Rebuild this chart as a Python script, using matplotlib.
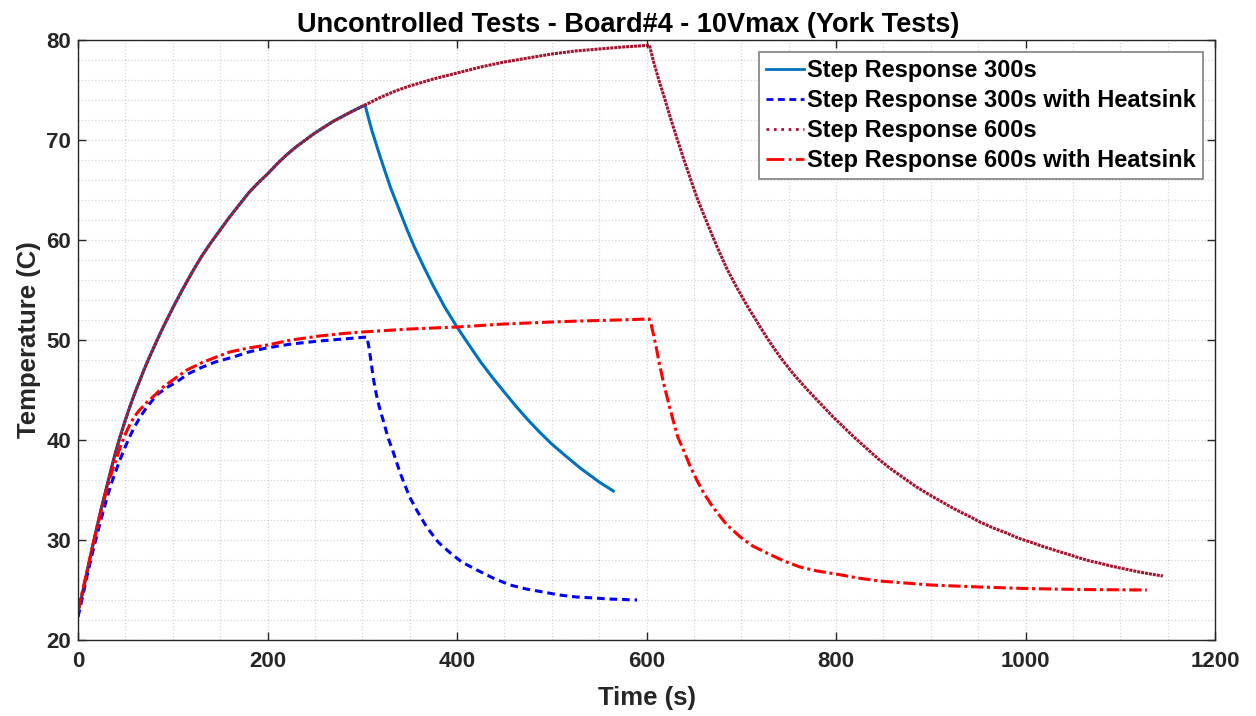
import matplotlib.pyplot as plt
from matplotlib.lines import Line2D
from matplotlib.ticker import MultipleLocator

plt.rcParams['font.family'] = ['Liberation Sans', 'DejaVu Sans']
plt.rcParams['font.weight'] = 'bold'

# Step Response 300s
t_300 = [0, 5, 10, 15, 20, 25, 30, 35, 40, 45, 50, 55, 60, 65, 70, 75, 84, 90, 100, 110,
         120, 130, 140, 150, 160, 170, 180, 190, 200, 210, 220, 230, 240, 250, 260, 270,
         280, 290, 303, 306, 310, 319, 325, 330, 340, 347, 355, 365, 375, 387, 400, 412,
         425, 437, 449, 462, 475, 487, 500, 516, 530, 550, 565]
T_300 = [22.8, 24.8, 27.0, 29.2, 31.3, 33.3, 35.2, 37.1, 38.9, 40.5, 42.0, 43.4, 44.7,
         45.9, 47.1, 48.2, 50.1, 51.3, 53.2, 55.0, 56.7, 58.3, 59.7, 61.0, 62.3, 63.5,
         64.7, 65.7, 66.6, 67.6, 68.5, 69.3, 70.0, 70.7, 71.3, 71.9, 72.4, 72.9, 73.5,
         72.4, 71.0, 68.3, 66.6, 65.2, 62.8, 61.1, 59.3, 57.3, 55.4, 53.3, 51.3, 49.6,
         47.8, 46.3, 44.9, 43.4, 42.0, 40.8, 39.6, 38.3, 37.2, 35.8, 34.9]

# Step Response 300s with Heatsink
t_300hs = [0, 5, 10, 15, 20, 25, 30, 35, 43, 48, 53, 59, 65, 72, 83, 93, 104, 116, 129,
           145, 164, 180, 199, 225, 255, 280, 305, 307, 309, 312, 315, 318, 322, 327, 333,
           340, 350, 358, 368, 380, 393, 405, 421, 438, 456, 473, 491, 508, 526, 545, 560,
           590]
T_300hs = [22.3, 24.4, 26.6, 28.6, 30.5, 32.3, 34.0, 35.6, 37.7, 38.9, 40.0, 41.2, 42.2,
           43.2, 44.5, 45.2, 45.8, 46.6, 47.2, 47.8, 48.3, 48.8, 49.2, 49.6, 49.9, 50.1,
           50.3, 49.3, 48.0, 46.0, 44.5, 43.3, 42.0, 40.3, 38.7, 36.7, 34.3, 32.9, 31.3,
           29.8, 28.7, 27.8, 27.0, 26.2, 25.5, 25.1, 24.8, 24.5, 24.3, 24.2, 24.1, 24.0]

# Step Response 600s
t_600 = [0, 5, 10, 15, 20, 25, 30, 35, 40, 45, 50, 55, 60, 65, 70, 75, 84, 90, 100, 110,
         120, 130, 140, 150, 160, 170, 180, 190, 200, 210, 220, 230, 240, 250, 260, 270,
         280, 290, 303, 320, 335, 350, 375, 400, 425, 450, 475, 500, 525, 550, 575, 600,
         603, 607, 613, 619, 625, 632, 640, 653, 664, 675, 685, 695, 707, 720, 730, 741,
         755, 770, 783, 797, 808, 820, 833, 846, 858, 870, 885, 899, 912, 925, 940, 952,
         966, 980, 992, 1005, 1017, 1030, 1044, 1057, 1068, 1080, 1090, 1100, 1110, 1120,
         1132, 1145]
T_600 = [22.8, 24.8, 27.0, 29.2, 31.3, 33.3, 35.2, 37.1, 38.9, 40.5, 42.0, 43.4, 44.7,
         45.9, 47.1, 48.2, 50.1, 51.3, 53.2, 55.0, 56.7, 58.3, 59.7, 61.0, 62.3, 63.5,
         64.7, 65.7, 66.6, 67.6, 68.5, 69.3, 70.0, 70.7, 71.3, 71.9, 72.4, 72.9, 73.5,
         74.3, 74.9, 75.4, 76.1, 76.7, 77.3, 77.8, 78.2, 78.6, 78.9, 79.1, 79.3, 79.45,
         79.5, 78.0, 76.0, 74.2, 72.3, 70.2, 67.9, 64.3, 61.7, 59.2, 57.1, 55.3, 53.3,
         51.3, 49.8, 48.3, 46.6, 45.0, 43.7, 42.3, 41.3, 40.2, 39.1, 38.0, 37.1, 36.3,
         35.3, 34.5, 33.8, 33.1, 32.4, 31.8, 31.2, 30.7, 30.2, 29.8, 29.4, 29.0, 28.6,
         28.2, 27.9, 27.65, 27.4, 27.2, 27.0, 26.8, 26.6, 26.4]

# Step Response 600s with Heatsink
t_600hs = [0, 5, 10, 15, 20, 25, 30, 35, 40, 45, 50, 55, 60, 65, 72, 80, 90, 100, 115,
           130, 146, 160, 180, 200, 225, 255, 280, 300, 350, 400, 450, 500, 530, 570, 603,
           605, 607, 610, 613, 618, 623, 628, 633, 639, 646, 653, 661, 670, 684, 699, 712,
           727, 745, 762, 780, 800, 823, 846, 873, 900, 925, 952, 1000, 1057, 1128]
T_600hs = [23.0, 25.0, 27.1, 29.2, 31.2, 33.1, 34.9, 36.6, 38.0, 39.4, 40.6, 41.6, 42.4,
           43.0, 43.7, 44.4, 45.3, 46.0, 47.0, 47.7, 48.3, 48.8, 49.2, 49.5, 50.0, 50.4,
           50.65, 50.8, 51.1, 51.3, 51.6, 51.8, 51.9, 52.0, 52.1, 51.5, 50.7, 49.4, 47.9,
           45.7, 43.8, 42.0, 40.3, 39.0, 37.4, 36.0, 34.6, 33.3, 31.6, 30.3, 29.4, 28.7,
           27.9, 27.3, 26.9, 26.6, 26.2, 25.9, 25.7, 25.5, 25.4, 25.3, 25.15, 25.05, 25.0]

labels = ['Step Response 300s', 'Step Response 300s with Heatsink',
          'Step Response 600s', 'Step Response 600s with Heatsink']
colors = ['#0072BD', '#0000FF', '#A2142F', '#FF0000']

fig = plt.figure(figsize=(12.56, 7.16), dpi=100)
ax = fig.add_axes([78 / 1256, 1 - 640 / 716, 1137 / 1256, 600 / 716])

ax.plot(t_300, T_300, color=colors[0], lw=2.2)
ax.plot(t_300hs, T_300hs, color=colors[1], lw=2.2, ls=(0, (2.5, 1.6)))
ax.plot(t_600, T_600, color=colors[2], lw=2.2, ls=(0, (1, 0.3)))
ax.plot(t_600hs, T_600hs, color=colors[3], lw=2.2, ls=(0, (4, 1.2, 1, 1.2)))

ax.set_xlim(0, 1200)
ax.set_ylim(20, 80)
ax.xaxis.set_major_locator(MultipleLocator(200))
ax.xaxis.set_minor_locator(MultipleLocator(50))
ax.yaxis.set_major_locator(MultipleLocator(10))
ax.yaxis.set_minor_locator(MultipleLocator(2))
ax.grid(True, which='both', ls=':', lw=0.9, color='#262626', alpha=0.18)
ax.tick_params(which='both', direction='in', top=True, right=True, colors='#262626',
               labelsize=16, width=1)
ax.tick_params(which='major', length=6, pad=5)
ax.tick_params(axis='x', which='major', pad=8)
ax.tick_params(which='minor', length=0)
for s in ax.spines.values():
    s.set_color('#262626')
    s.set_linewidth(1)

ax.set_xlabel('Time (s)', fontsize=18.5, fontweight='bold', color='#262626', labelpad=10)
ax.set_ylabel('Temperature (C)', fontsize=18.5, fontweight='bold', color='#262626',
              labelpad=4)
ax.set_title('Uncontrolled Tests - Board#4 - 10Vmax (York Tests)', fontsize=19.5,
             fontweight='bold', x=(628 - 78) / 1137, pad=6)

handles = [Line2D([], [], color=colors[0], lw=2),
           Line2D([], [], color=colors[1], lw=2, ls=(0, (2.5, 1.6))),
           Line2D([], [], color=colors[2], lw=2, ls=':'),
           Line2D([], [], color=colors[3], lw=2, ls='-.')]
leg = ax.legend(handles, labels, loc='upper right', fontsize=17, handlelength=1.6,
                handletextpad=0.15, labelspacing=0.3, borderpad=0.3, borderaxespad=0.5,
                fancybox=False, framealpha=1, edgecolor='#808080')
leg.get_frame().set_linewidth(1.2)

fig.savefig('out.png', dpi=100)
